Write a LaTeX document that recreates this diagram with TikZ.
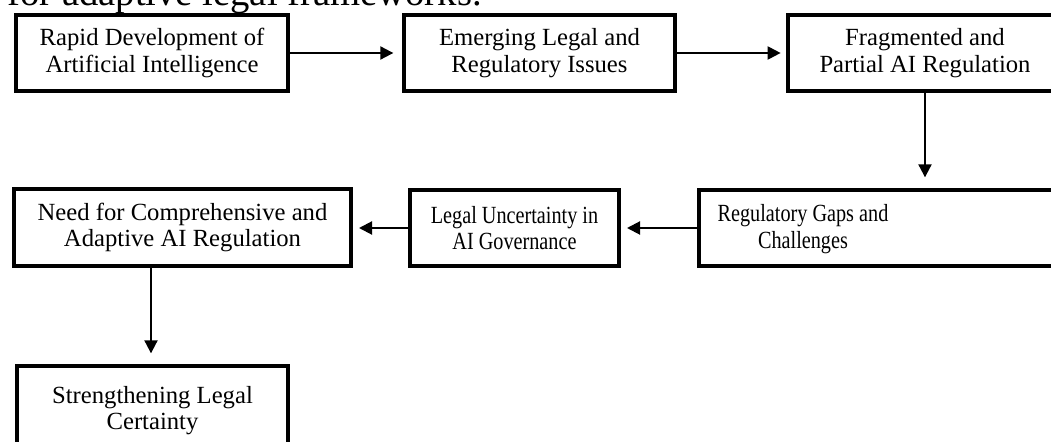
\documentclass[tikz,border=0pt]{standalone}
\usepackage{fontspec}
\setmainfont{Liberation Serif}
\newfontfamily\condfont[FakeStretch=0.82]{Liberation Serif}
\usetikzlibrary{arrows.meta}
\begin{document}
\begin{tikzpicture}[x=0.75pt,y=-0.75pt,
  box/.style={draw=black, line width=3pt, fill=white, inner sep=0pt, align=center,
    font=\fontsize{18.5pt}{20pt}\selectfont},
  cond/.style={font=\condfont\fontsize{18.5pt}{20pt}\selectfont},
  txt/.style={inner sep=0pt, align=center, font=\condfont\fontsize{18.5pt}{20pt}\selectfont},
  arr/.style={line width=1.5pt, -{Triangle[length=9.75pt,width=9.75pt]}}]
\useasboundingbox (0,0) rectangle (1051,442);
\clip (0,0) rectangle (1051,442);
\node[anchor=base west, inner sep=0pt, font=\fontsize{29pt}{33pt}\selectfont] (cap) at (7,6) {for adaptive legal frameworks.};
\node[box, minimum width=272*0.75pt, minimum height=76*0.75pt] (b1) at (152,53) {Rapid Development of\\Artificial Intelligence};
\node[box, minimum width=271*0.75pt, minimum height=76*0.75pt] (b2) at (539.5,53) {Emerging Legal and\\Regulatory Issues};
\node[box, minimum width=274*0.75pt, minimum height=76*0.75pt] (b3) at (925,53) {Fragmented and\\Partial AI Regulation};
\node[box, minimum width=369*0.75pt, minimum height=76*0.75pt] (b4) at (883.5,228) {};
\node[txt] (b4t) at (803,229) {Regulatory Gaps and\\Challenges};
\node[box, cond, minimum width=209*0.75pt, minimum height=76*0.75pt] (b5) at (514.5,228) {Legal Uncertainty in\\AI Governance};
\node[box, minimum width=337*0.75pt, minimum height=77*0.75pt] (b6) at (182.5,227.5) {Need for Comprehensive and\\Adaptive AI Regulation};
\node[box, minimum width=271*0.75pt, minimum height=89*0.75pt] (b7) at (152.5,410.5) {Strengthening Legal\\Certainty};
\draw[arr, shorten >=6.5pt] (b1.east) -- (b2.west);
\draw[arr, shorten >=4pt] (b2.east) -- (b3.west);
\draw[arr, shorten >=8pt] (b3.south) -- (b3.south |- b4.north);
\draw[arr, shorten >=4.5pt] (b4.west |- b5.east) -- (b5.east);
\draw[arr, shorten >=4.5pt] (b5.west) -- (b5.west -| b6.east);
\draw[arr, shorten >=8pt] ([xshift=-1.5*0.75pt]b7.north |- b6.south) -- ([xshift=-1.5*0.75pt]b7.north);
\end{tikzpicture}
\end{document}
